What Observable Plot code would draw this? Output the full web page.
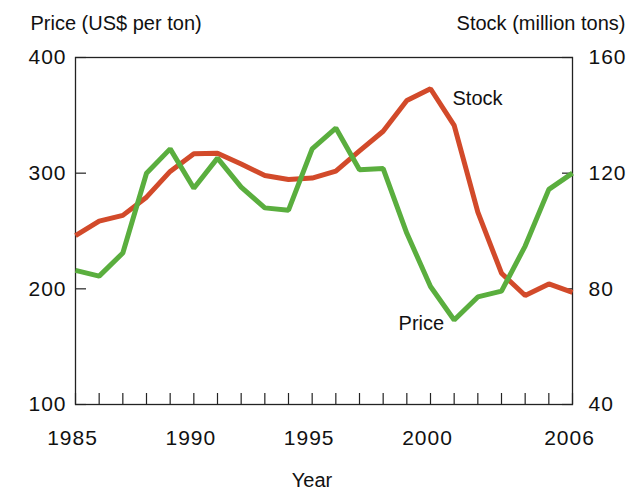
<!DOCTYPE html>
<html>
<head>
<meta charset="utf-8">
<script src="https://cdn.jsdelivr.net/npm/d3@7"></script>
<script src="https://cdn.jsdelivr.net/npm/@observablehq/plot@0.6"></script>
<style>
  html, body { margin: 0; padding: 0; background: #fff; }
  #chart svg { display: block; }
  #chart g[aria-label="x-axis tick label"] text,
  #chart g[aria-label="y-axis tick label"] text { letter-spacing: 1px; }
</style>
</head>
<body>
<div id="chart"></div>
<script>
const years = [1985,1986,1987,1988,1989,1990,1991,1992,1993,1994,1995,1996,1997,1998,1999,2000,2001,2002,2003,2004,2005,2006];
const price = [216,211,231,300,321,287,313,288,270,268,321,339,303,304,248,202,173,193,198,237,286,300];
const stock = [98.4,103.4,105.4,111.7,120.6,126.7,126.9,123.2,119.2,117.8,118.3,120.7,127.7,134.5,145.1,149.2,136.5,106.5,85.4,77.7,81.7,78.8];
const priceTicks = [100,200,300,400];
const stockTicks = [40,80,120,160];
const yearLabels = [1985,1990,1995,2000,2006];

// map stock (40..160) onto the price axis (100..400)
const toPrice = s => 100 + (s - 40) * 2.5;
const fromPrice = p => (p - 100) / 2.5 + 40;

const rows = years.map((y, i) => ({year: y, price: price[i], stock: stock[i], stockY: toPrice(stock[i])}));

const RED = "#d24a2a";
const GREEN = "#5aae3e";
const FONT = "'Liberation Sans', Arial, sans-serif";

const chart = Plot.plot({
  width: 634,
  height: 491,
  marginTop: 57,
  marginLeft: 75,
  marginRight: 62,
  marginBottom: 87,
  style: {fontFamily: FONT, fontSize: "20px", color: "#111", background: "#fff"},
  x: {domain: [1985, 2006]},
  y: {domain: [100, 400]},
  marks: [
    // inward tick marks
    Plot.axisX({ticks: years, tickSize: -11, tickFormat: () => "", label: null, stroke: "#222", strokeWidth: 1.2}),
    Plot.axisY({anchor: "left", ticks: priceTicks, tickSize: -11, tickFormat: () => "", label: null, stroke: "#222", strokeWidth: 1.2}),
    Plot.axisY({anchor: "right", ticks: priceTicks, tickSize: -11, tickFormat: () => "", label: null, stroke: "#222", strokeWidth: 1.2}),
    // labels
    Plot.axisX({ticks: yearLabels, tickSize: 0, tickPadding: 26, tickFormat: d => String(d), label: null, fontSize: 21, dx: -3}),
    Plot.axisY({anchor: "left", ticks: priceTicks, tickSize: 0, tickPadding: 9, tickFormat: d => String(d), label: null, fontSize: 21}),
    Plot.axisY({anchor: "right", ticks: priceTicks, tickSize: 0, tickPadding: 16, tickFormat: d => String(fromPrice(d)), label: null, fontSize: 21}),
    Plot.frame({stroke: "#222", strokeWidth: 1.3}),
    Plot.line(rows, {x: "year", y: "stockY", stroke: RED, strokeWidth: 5, strokeLinejoin: "miter", strokeLinecap: "butt"}),
    Plot.line(rows, {x: "year", y: "price", stroke: GREEN, strokeWidth: 5, strokeLinejoin: "miter", strokeLinecap: "butt"}),
    Plot.text(rows, {filter: d => d.year === 2000, x: "year", y: "stockY", text: () => "Stock", textAnchor: "start", dx: 22, dy: 10, fontSize: 20, fill: "#111"}),
    Plot.text(rows, {filter: d => d.year === 2001, x: "year", y: "price", text: () => "Price", textAnchor: "end", dx: -10, dy: 4, fontSize: 20, fill: "#111"}),
    Plot.text(["Price (US$ per ton)"], {frameAnchor: "top-left", textAnchor: "start", lineAnchor: "bottom", dx: -45, dy: -28, fontSize: 20, fill: "#111"}),
    Plot.text(["Stock (million tons)"], {frameAnchor: "top-right", textAnchor: "end", lineAnchor: "bottom", dx: 53, dy: -28, fontSize: 20, fill: "#111"}),
    Plot.text(["Year"], {frameAnchor: "bottom", lineAnchor: "bottom", dx: -12, dy: 82, fontSize: 20, fill: "#111"})
  ]
});
document.getElementById("chart").appendChild(chart);
</script>
</body>
</html>
